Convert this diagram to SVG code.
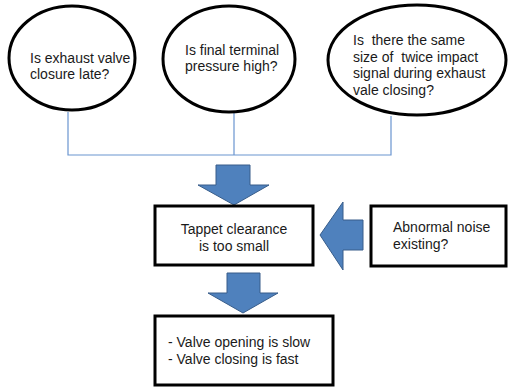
<svg xmlns="http://www.w3.org/2000/svg" width="508" height="388" viewBox="0 0 508 388">
<style>
.node{fill:#fff;stroke:#000;stroke-width:3}
.t{font-family:"Liberation Sans",Arial,sans-serif;font-size:14px;fill:#1a1a1a}
.arr{fill:#4F81BD;stroke:#385D8A;stroke-width:1}
.conn{fill:none;stroke:#6A95D0;stroke-width:1.2}
</style>
<rect width="508" height="388" fill="#fff"/>
<g id="connectors">
<path class="conn" d="M68 112V155H391V116M234 113V155"/>
<path class="arr" d="M216 165H250V185H269L234 205L198 185H216Z"/>
<path class="arr" d="M227 273H260V293H278L243 313L208 293H227Z"/>
<path class="arr" d="M363 220V250H343V270L320 235L343 202V220Z"/>
</g>
<g id="n1">
<ellipse class="node" cx="72" cy="58" rx="63" ry="52"/>
<text class="t" x="30" y="63">Is exhaust valve</text>
<text class="t" x="30" y="79">closure late?</text>
</g>
<g id="n2">
<ellipse class="node" cx="229" cy="59" rx="66" ry="53"/>
<text class="t" x="185" y="55">Is final terminal</text>
<text class="t" x="185" y="71">pressure high?</text>
</g>
<g id="n3">
<ellipse class="node" cx="417" cy="60" rx="89" ry="55"/>
<text class="t" x="353" y="45" xml:space="preserve">Is  there the same</text>
<text class="t" x="353" y="61.5" xml:space="preserve">size of  twice impact</text>
<text class="t" x="353" y="78">signal during exhaust</text>
<text class="t" x="353" y="94.5">vale closing?</text>
</g>
<g id="n4">
<rect class="node" x="155" y="206" width="158" height="59"/>
<text class="t" x="234" y="234" text-anchor="middle">Tappet clearance</text>
<text class="t" x="234" y="251" text-anchor="middle">is too small</text>
</g>
<g id="n5">
<rect class="node" x="371" y="206" width="135" height="60"/>
<text class="t" x="393" y="232">Abnormal noise</text>
<text class="t" x="393" y="249">existing?</text>
</g>
<g id="n6">
<rect class="node" x="155" y="316" width="178" height="69"/>
<text class="t" x="168" y="347">- Valve opening is slow</text>
<text class="t" x="168" y="364">- Valve closing is fast</text>
</g>
</svg>
